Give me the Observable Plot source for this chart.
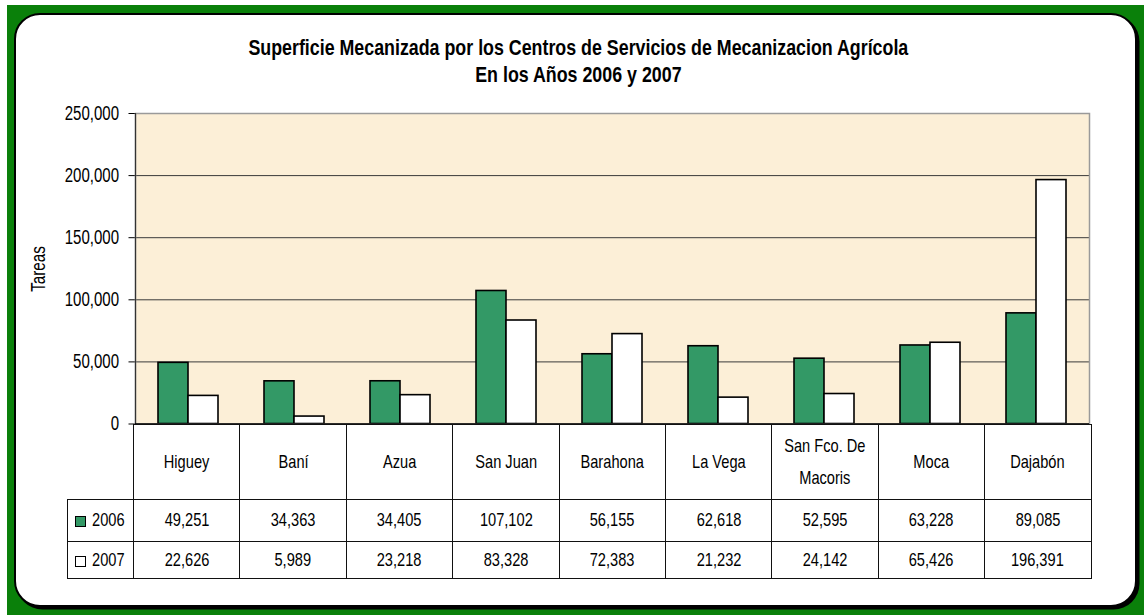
<!DOCTYPE html>
<html>
<head>
<meta charset="utf-8">
<script src="https://cdn.jsdelivr.net/npm/d3@7"></script>
<script src="https://cdn.jsdelivr.net/npm/@observablehq/plot@0.6"></script>
<style>
html,body{margin:0;padding:0;background:#fff;}
body{width:1144px;height:615px;position:relative;overflow:hidden;font-family:"Liberation Sans",Arial,sans-serif;color:#000;}
#green{position:absolute;left:7px;top:5px;right:0;bottom:0;background:#0a800a;}
#card{position:absolute;left:14px;top:13px;width:1119px;height:590px;background:#fff;border:2px solid #000;border-radius:26px;box-shadow:2.5px 2.5px 0 #000;}
#title{position:absolute;left:78px;width:1000px;top:35.25px;text-align:center;font-weight:bold;font-size:22px;}
#title div{line-height:26.5px;height:26.5px;}
#title span{display:inline-block;transform:scaleX(0.81);white-space:nowrap;}
#chart{position:absolute;left:0;top:0;}
#ylab{position:absolute;left:37.5px;top:269px;font-size:19.5px;line-height:22px;white-space:nowrap;transform:translate(-50%,-50%) rotate(-90deg) scaleX(0.78);}
#tbl{position:absolute;left:67px;top:423.5px;border-collapse:collapse;table-layout:fixed;width:1024px;font-size:19px;}
#tbl td{border:1px solid #111;text-align:center;vertical-align:middle;padding:0;overflow:visible;white-space:pre;}
#tbl td.corner{border:none;}
#tbl tr.hdr{height:75px;}
#tbl tr.r0{height:42px;}
#tbl tr.r1{height:37.5px;}
#tbl .t{display:inline-block;transform:scaleX(0.77);white-space:pre;line-height:22px;}
#tbl tr.hdr .t{line-height:32px;}
#tbl td.leg{text-align:left;padding-left:7px;}
#tbl td.leg .t{transform-origin:left center;}
#tbl .sw{display:inline-block;width:9px;height:9px;border:1px solid #000;margin-right:6px;vertical-align:-1px;}
</style>
</head>
<body>
<div id="green"></div>
<div id="card"></div>
<div id="title"></div>
<div id="chart"></div>
<div id="ylab"></div>
<script>
// ---- data ----
const titleLines = ["Superficie Mecanizada por los Centros de Servicios de Mecanizacion Agrícola", "En los Años 2006 y 2007"];
const yLabel = "Tareas";
const categories = ["Higuey", "Baní", "Azua", "San Juan", "Barahona", "La Vega", "San Fco. De Macoris", "Moca", "Dajabón"];
const years = ["2006", "2007"];
const values2006 = [49251, 34363, 34405, 107102, 56155, 62618, 52595, 63228, 89085];
const values2007 = [22626, 5989, 23218, 83328, 72383, 21232, 24142, 65426, 196391];
const yTicks = [0, 50000, 100000, 150000, 200000, 250000];
const seriesColors = ["#339966", "#ffffff"];

const fmt = d3.format(",");

// title
d3.select("#title").selectAll("div").data(titleLines).join("div").append("span").text(d => d);
d3.select("#ylab").text(yLabel);

// chart
const rows = categories.flatMap((c, i) => [
  {cat: c, year: years[0], v: values2006[i]},
  {cat: c, year: years[1], v: values2007[i]}
]);

const svg = Plot.plot({
  width: 1144,
  height: 430,
  marginTop: 113,
  marginRight: 53.4,
  marginBottom: 6.5,
  marginLeft: 133,
  style: {fontFamily: '"Liberation Sans", Arial, sans-serif', fontSize: "19.5px", color: "#000", background: "transparent", overflow: "visible"},
  fx: {domain: categories, padding: 0, axis: null},
  x: {domain: years, paddingInner: 0, paddingOuter: 0.72, axis: null},
  y: {domain: [0, 250000], ticks: yTicks, tickFormat: fmt, tickSize: 6.5, tickPadding: 10, label: null},
  color: {domain: years, range: seriesColors},
  marks: [
    Plot.frame({fill: "#fcefd7", facet: "super"}),
    Plot.ruleY(yTicks.slice(1, -1), {stroke: "#3a3a3a", strokeWidth: 1}),
    Plot.barY(rows, {fx: "cat", x: "year", y: "v", fill: "year", stroke: "#000", strokeWidth: 1.6}),
    Plot.frame({stroke: "#9a9a9a", strokeWidth: 1.5, facet: "super"}),
    Plot.frame({anchor: "left", stroke: "#333", strokeWidth: 1.2, facet: "super"}),
    Plot.ruleY([0], {stroke: "#000", strokeWidth: 1.5})
  ]
});

// condense the tick label glyphs horizontally (narrow font look); only x is affected
svg.querySelectorAll("text").forEach(t => {
  const xa = t.getAttribute("x");
  const x = xa != null && !/em$/.test(xa) ? parseFloat(xa) || 0 : 0;
  if (xa != null && !/em$/.test(xa)) t.removeAttribute("x");
  const tr = t.getAttribute("transform") || "";
  t.setAttribute("transform", `${tr} translate(${x},0) scale(0.77,1)`);
});
document.getElementById("chart").appendChild(svg);

// data table below the chart
const tbl = d3.select("body").append("table").attr("id", "tbl");
const cg = tbl.append("colgroup");
cg.append("col").style("width", "66px");
categories.forEach(() => cg.append("col").style("width", "106.4px"));
const hdr = tbl.append("tr").attr("class", "hdr");
hdr.append("td").attr("class", "corner");
categories.forEach(c => hdr.append("td").append("span").attr("class", "t").text(c.replace(" De ", " De\n")));
[[years[0], values2006, seriesColors[0]], [years[1], values2007, seriesColors[1]]].forEach(([yr, vals, col], k) => {
  const r = tbl.append("tr").attr("class", "r" + k);
  const lc = r.append("td").attr("class", "leg");
  lc.append("span").attr("class", "sw").style("background", col);
  lc.append("span").attr("class", "t").text(yr);
  vals.forEach(v => r.append("td").append("span").attr("class", "t").text(fmt(v)));
});
</script>
</body>
</html>
